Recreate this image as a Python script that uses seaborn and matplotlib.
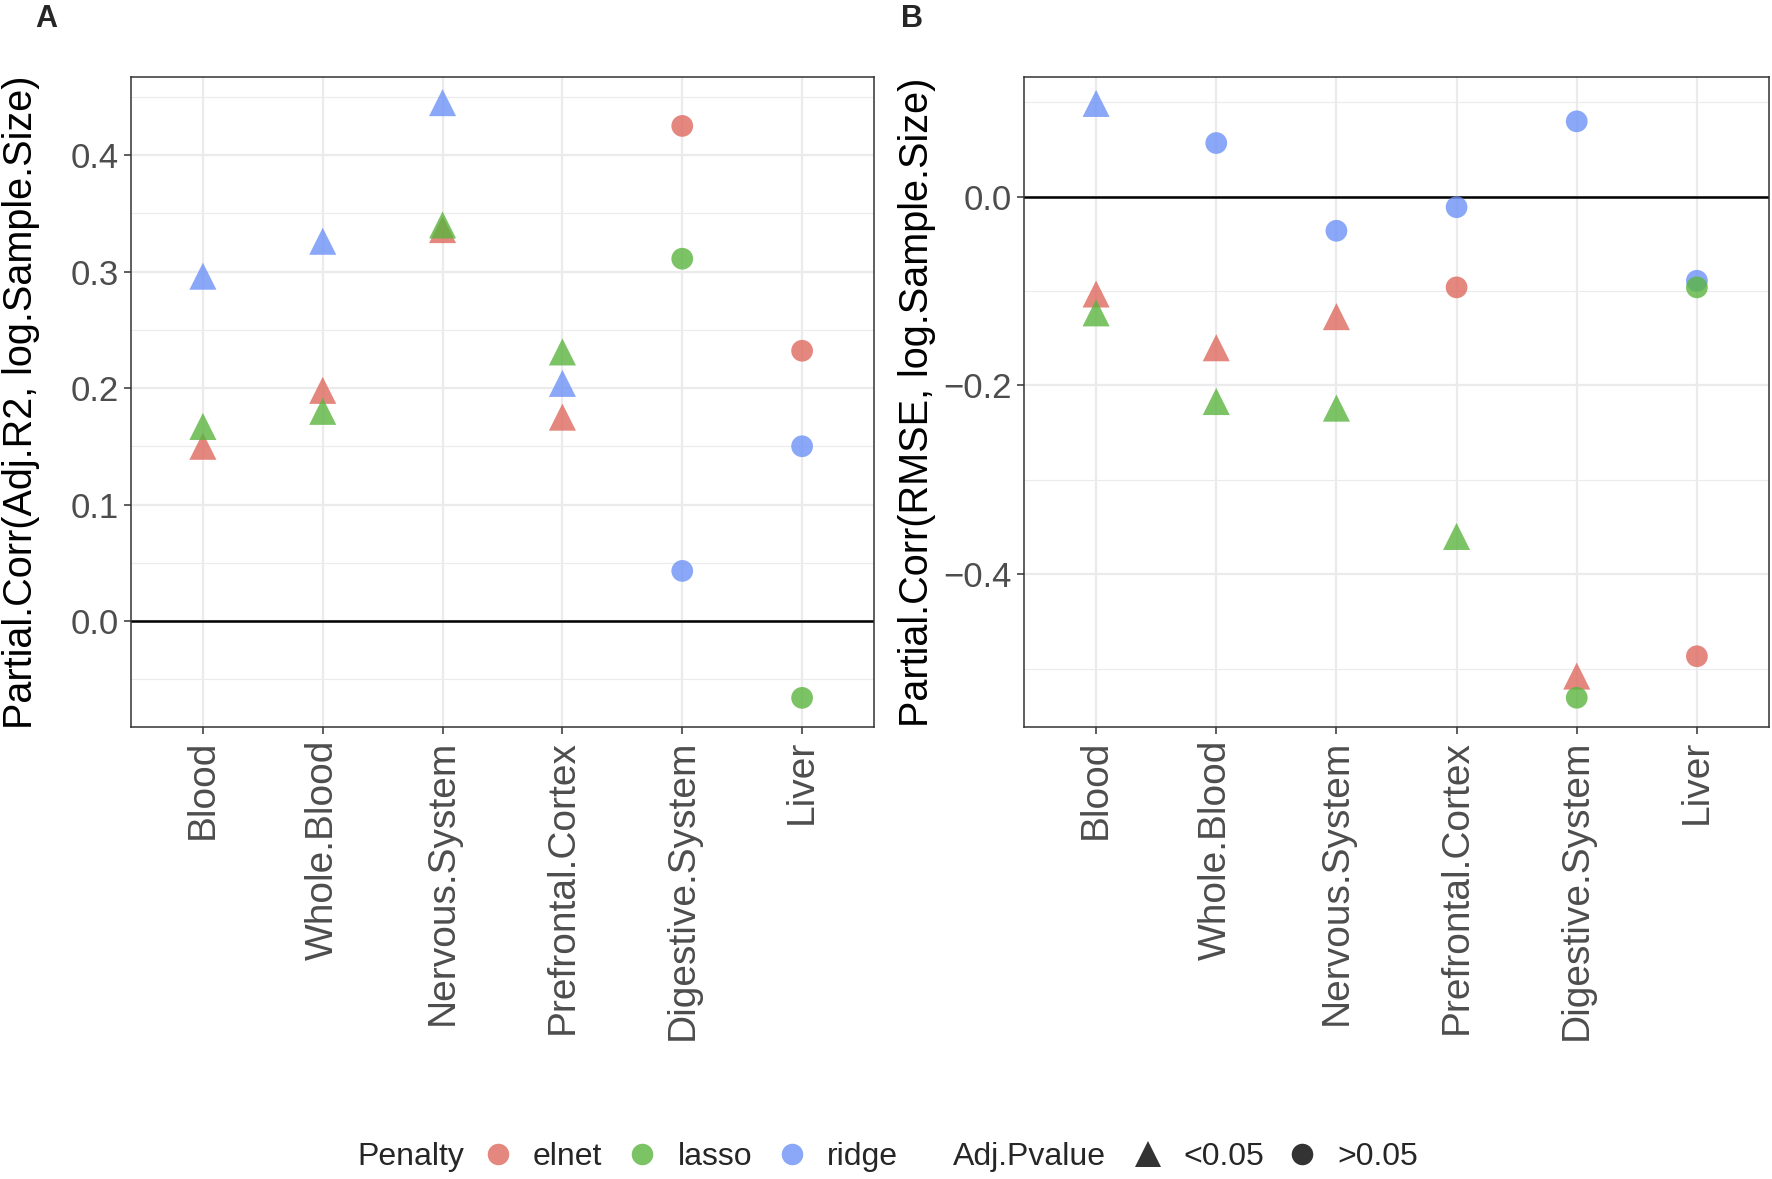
import numpy as np
import pandas as pd
import matplotlib
matplotlib.use("Agg")
import matplotlib.pyplot as plt
from matplotlib.lines import Line2D
import seaborn as sns

# ---------------- data ----------------
tissues = ["Blood", "Whole.Blood", "Nervous.System", "Prefrontal.Cortex",
           "Digestive.System", "Liver"]
penalties = ["elnet", "lasso", "ridge"]

# Panel A: Partial.Corr(Adj.R2, log.Sample.Size)
elnet_A = [0.150, 0.198, 0.336, 0.175, 0.425, 0.232]
lasso_A = [0.167, 0.180, 0.340, 0.231, 0.311, -0.066]
ridge_A = [0.296, 0.326, 0.445, 0.204, 0.043, 0.150]
elnet_A_p = ["<0.05", "<0.05", "<0.05", "<0.05", ">0.05", ">0.05"]
lasso_A_p = ["<0.05", "<0.05", "<0.05", "<0.05", ">0.05", ">0.05"]
ridge_A_p = ["<0.05", "<0.05", "<0.05", "<0.05", ">0.05", ">0.05"]

# Panel B: Partial.Corr(RMSE, log.Sample.Size)
elnet_B = [-0.103, -0.160, -0.127, -0.096, -0.508, -0.487]
lasso_B = [-0.123, -0.217, -0.224, -0.360, -0.531, -0.096]
ridge_B = [0.099, 0.057, -0.036, -0.011, 0.080, -0.089]
elnet_B_p = ["<0.05", "<0.05", "<0.05", ">0.05", "<0.05", ">0.05"]
lasso_B_p = ["<0.05", "<0.05", "<0.05", "<0.05", ">0.05", ">0.05"]
ridge_B_p = ["<0.05", ">0.05", ">0.05", ">0.05", ">0.05", ">0.05"]

yticks_A = [0.0, 0.1, 0.2, 0.3, 0.4]
yticks_B = [-0.4, -0.2, 0.0]


def make_df(el, la, ri, elp, lap, rip):
    rows = []
    # draw order: elnet, ridge, lasso (lasso on top)
    for pen, vals, ps in (("elnet", el, elp), ("ridge", ri, rip), ("lasso", la, lap)):
        for t, v, p in zip(tissues, vals, ps):
            rows.append({"Tissue": t, "Penalty": pen, "Value": v, "Adj.Pvalue": p})
    df = pd.DataFrame(rows)
    df["x"] = df["Tissue"].map({t: i for i, t in enumerate(tissues)})
    return df


dfA = make_df(elnet_A, lasso_A, ridge_A, elnet_A_p, lasso_A_p, ridge_A_p)
dfB = make_df(elnet_B, lasso_B, ridge_B, elnet_B_p, lasso_B_p, ridge_B_p)

palette = {"elnet": "#DE695F", "lasso": "#5BB540", "ridge": "#6D92F6"}
ALPHA = 0.8

sns.set_theme(style="white")
plt.rcParams["font.family"] = ["Liberation Sans", "DejaVu Sans"]

W, H = 1772, 1179
fig = plt.figure(figsize=(W / 100, H / 100), dpi=100)

axA = fig.add_axes([131 / W, 1 - 727 / H, 743 / W, 650 / H])
axB = fig.add_axes([1024 / W, 1 - 727 / H, 745 / W, 650 / H])


def draw(ax, df, ylim, yticks, ylabel):
    ax.set_facecolor("white")
    # grid
    minors = []
    step = yticks[1] - yticks[0]
    t = yticks[0] - step / 2
    while t < ylim[1]:
        if t > ylim[0]:
            minors.append(t)
        t += step
    for m in minors:
        ax.axhline(m, color="#EBEBEB", lw=0.8, zorder=0)
    for yt in yticks:
        ax.axhline(yt, color="#EBEBEB", lw=1.6, zorder=0)
    for i in range(len(tissues)):
        ax.axvline(i, color="#EBEBEB", lw=1.6, zorder=0)
    ax.axhline(0, color="black", lw=1.8, zorder=1)

    tri = df[df["Adj.Pvalue"] == "<0.05"]
    cir = df[df["Adj.Pvalue"] == ">0.05"]
    sns.scatterplot(data=tri, x="x", y="Value", hue="Penalty", palette=palette,
                    marker="^", s=380, alpha=ALPHA, linewidth=0, ax=ax,
                    legend=False, zorder=3)
    sns.scatterplot(data=cir, x="x", y="Value", hue="Penalty", palette=palette,
                    marker="o", s=245, alpha=ALPHA, linewidth=0, ax=ax,
                    legend=False, zorder=3)

    ax.set_xlim(-0.6, len(tissues) - 0.4)
    ax.set_ylim(*ylim)
    ax.set_xticks(range(len(tissues)))
    ax.set_xticklabels(tissues, rotation=90, fontsize=28, color="#4D4D4D")
    ax.set_yticks(yticks)
    ax.set_yticklabels([f"{v:.1f}".replace("-", "\u2212") for v in yticks],
                       fontsize=25, color="#4D4D4D")
    ax.tick_params(axis="both", direction="out", length=5, width=1.1,
                   color="#333333", left=True, bottom=True)
    ax.tick_params(axis="y", pad=4)
    ax.tick_params(axis="x", pad=4)
    ax.set_xlabel("")
    ax.set_ylabel(ylabel, fontsize=28.5, color="black")
    for sp in ax.spines.values():
        sp.set_visible(True)
        sp.set_color("#333333")
        sp.set_linewidth(1.1)


draw(axA, dfA, (-0.091, 0.467), yticks_A, "Partial.Corr(Adj.R2, log.Sample.Size)")
draw(axB, dfB, (-0.562, 0.127), yticks_B, "Partial.Corr(RMSE, log.Sample.Size)")
axA.yaxis.set_label_coords((40 - 131) / 743, 0.5)
axB.yaxis.set_label_coords((936 - 1024) / 745, 0.5)

fig.text(35 / W, 1 - 4 / H, "A", fontsize=22, fontweight="bold", va="top", ha="left")
fig.text(901 / W, 1 - 4 / H, "B", fontsize=22, fontweight="bold", va="top", ha="left")

# legend
ly = 1 - 1157 / H
fig.text(357 / W, ly, "Penalty", fontsize=23, va="center", ha="left")
h1 = [Line2D([], [], linestyle="none", marker="o", markersize=15.5,
             markerfacecolor=palette[p], markeredgewidth=0, alpha=ALPHA)
      for p in penalties]
leg1 = fig.legend(h1, penalties, loc="center left", bbox_to_anchor=(482 / W, ly),
                  ncol=3, frameon=False, fontsize=23, handlelength=1.0,
                  handletextpad=0.6, columnspacing=0.75, borderpad=0, borderaxespad=0)
fig.text(953 / W, ly, "Adj.Pvalue", fontsize=23, va="center", ha="left")
h2 = [Line2D([], [], linestyle="none", marker="^", markersize=19,
             markerfacecolor="#333333", markeredgewidth=0),
      Line2D([], [], linestyle="none", marker="o", markersize=15.5,
             markerfacecolor="#333333", markeredgewidth=0)]
leg2 = fig.legend(h2, ["<0.05", ">0.05"], loc="center left",
                  bbox_to_anchor=(1132 / W, ly), ncol=2, frameon=False,
                  fontsize=23, handlelength=1.0, handletextpad=0.6,
                  columnspacing=0.7, borderpad=0, borderaxespad=0)

fig.savefig("out.png", dpi=100, facecolor="white")
